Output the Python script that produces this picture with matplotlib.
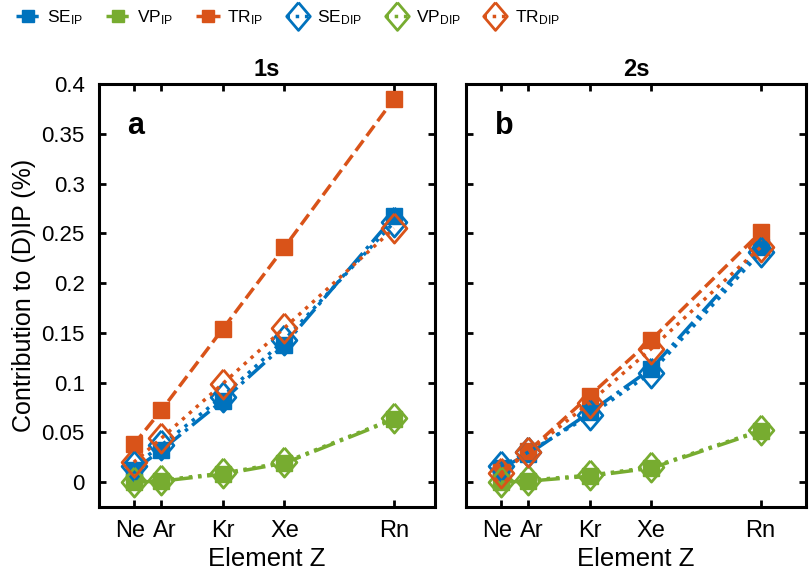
import matplotlib
matplotlib.use('Agg')
import matplotlib.pyplot as plt
from matplotlib.lines import Line2D
from matplotlib.transforms import ScaledTranslation

plt.rcParams['font.family'] = ['Liberation Sans', 'DejaVu Sans']
plt.rcParams['mathtext.fontset'] = 'custom'
plt.rcParams['mathtext.rm'] = 'Liberation Sans'
plt.rcParams['mathtext.it'] = 'Liberation Sans:italic'
plt.rcParams['mathtext.bf'] = 'Liberation Sans:bold'

# atomic numbers and element names
z_values = [10, 18, 36, 54, 86]
elements = ['Ne', 'Ar', 'Kr', 'Xe', 'Rn']

# 1s contributions (%)
se_ip_1s = [0.012, 0.032, 0.082, 0.138, 0.267]
vp_ip_1s = [0.000, 0.001, 0.008, 0.019, 0.063]
tr_ip_1s = [0.038, 0.072, 0.154, 0.236, 0.385]
se_dip_1s = [0.016, 0.037, 0.086, 0.143, 0.261]
vp_dip_1s = [0.000, 0.002, 0.009, 0.020, 0.064]
tr_dip_1s = [0.020, 0.044, 0.099, 0.155, 0.255]

# 2s contributions (%)
se_ip_2s = [0.014, 0.028, 0.070, 0.114, 0.236]
vp_ip_2s = [0.000, 0.001, 0.006, 0.014, 0.051]
tr_ip_2s = [0.010, 0.031, 0.087, 0.143, 0.251]
se_dip_2s = [0.016, 0.030, 0.067, 0.110, 0.231]
vp_dip_2s = [0.000, 0.002, 0.007, 0.015, 0.052]
tr_dip_2s = [0.009, 0.030, 0.080, 0.134, 0.236]

yticks = [0, 0.05, 0.1, 0.15, 0.2, 0.25, 0.3, 0.35, 0.4]

BLUE = '#0072BD'
ORANGE = '#D95319'
GREEN = '#77AC30'

# taller-than-wide diamond like MATLAB
DIAMOND = [(0, 1), (0.85, 0), (0, -1), (-0.85, 0), (0, 1)]


def draw_panel(ax, ip, dip, xlim):
    colors = [BLUE, GREEN, ORANGE]
    ip_styles = ['-.', '-.', '--']
    for vals, c, ls in zip(ip, colors, ip_styles):
        ax.plot(z_values, vals, linestyle=ls, color=c, lw=2.5,
                marker='s', ms=11, mfc=c, mec=c, mew=1.0)
    for vals, c in zip(dip, colors):
        ax.plot(z_values, vals, linestyle=':', color=c, lw=2.5,
                marker=DIAMOND, ms=21, mfc='none', mec=c, mew=2.0)

    ax.set_xlim(*xlim)
    ax.set_ylim(-0.025, 0.4)
    ax.set_xticks(z_values)
    ax.set_xticklabels(elements)
    ax.set_yticks(yticks)
    ax.set_yticklabels(['%g' % t for t in yticks])
    ax.tick_params(direction='in', top=True, right=True, length=5, width=2)
    ax.tick_params(axis='x', labelsize=17, pad=9)
    ax.tick_params(axis='y', labelsize=16, pad=10)
    for sp in ax.spines.values():
        sp.set_linewidth(2.2)
    ax.set_xlabel('Element Z', fontsize=18.5, labelpad=4)

    # Ne and Ar labels sit close together, nudge them apart
    lbls = ax.get_xticklabels()
    for lbl, dx in [(lbls[0], -4), (lbls[1], 4)]:
        lbl.set_transform(lbl.get_transform() + ScaledTranslation(dx / 100, 0, ax.figure.dpi_scale_trans))


fig = plt.figure(figsize=(8.09, 5.78), dpi=100)
ax1 = fig.add_axes([0.1218, 0.1228, 0.416, 0.7318])
ax2 = fig.add_axes([0.576, 0.1228, 0.4203, 0.7318])

draw_panel(ax1, [se_ip_1s, vp_ip_1s, tr_ip_1s], [se_dip_1s, vp_dip_1s, tr_dip_1s], (-0.3, 98))
draw_panel(ax2, [se_ip_2s, vp_ip_2s, tr_ip_2s], [se_dip_2s, vp_dip_2s, tr_dip_2s], (-0.2, 99.3))
ax2.set_yticklabels([])

ax1.set_ylabel('Contribution to (D)IP (%)', fontsize=18, labelpad=4)
ax1.set_title('1s', fontsize=17, fontweight='bold', pad=6)
ax2.set_title('2s', fontsize=17, fontweight='bold', pad=6)
ax1.text(0.085, 0.9, 'a', transform=ax1.transAxes, fontsize=22, fontweight='bold', va='center')
ax2.text(0.085, 0.9, 'b', transform=ax2.transAxes, fontsize=22, fontweight='bold', va='center')

# legend
handles = []
labels = []
for name, c, ls in [('SE', BLUE, '-.'), ('VP', GREEN, '-.'), ('TR', ORANGE, '--')]:
    handles.append(Line2D([], [], color=c, linestyle=ls, lw=2.5, marker='s', ms=9, mfc=c, mec=c))
    labels.append(name + r'$_\mathrm{IP}$')
for name, c in [('SE', BLUE), ('VP', GREEN), ('TR', ORANGE)]:
    handles.append(Line2D([], [], color=c, linestyle=':', lw=2.5, marker=DIAMOND, ms=20, mfc='none', mec=c, mew=2.0))
    labels.append(name + r'$_\mathrm{DIP}$')
fig.legend(handles, labels, loc='center left', bbox_to_anchor=(0.0, 0.97), ncol=6,
           frameon=False, fontsize=12.5, handlelength=1.4, handletextpad=0.4, columnspacing=1.3)

fig.savefig('out.png', dpi=100)
